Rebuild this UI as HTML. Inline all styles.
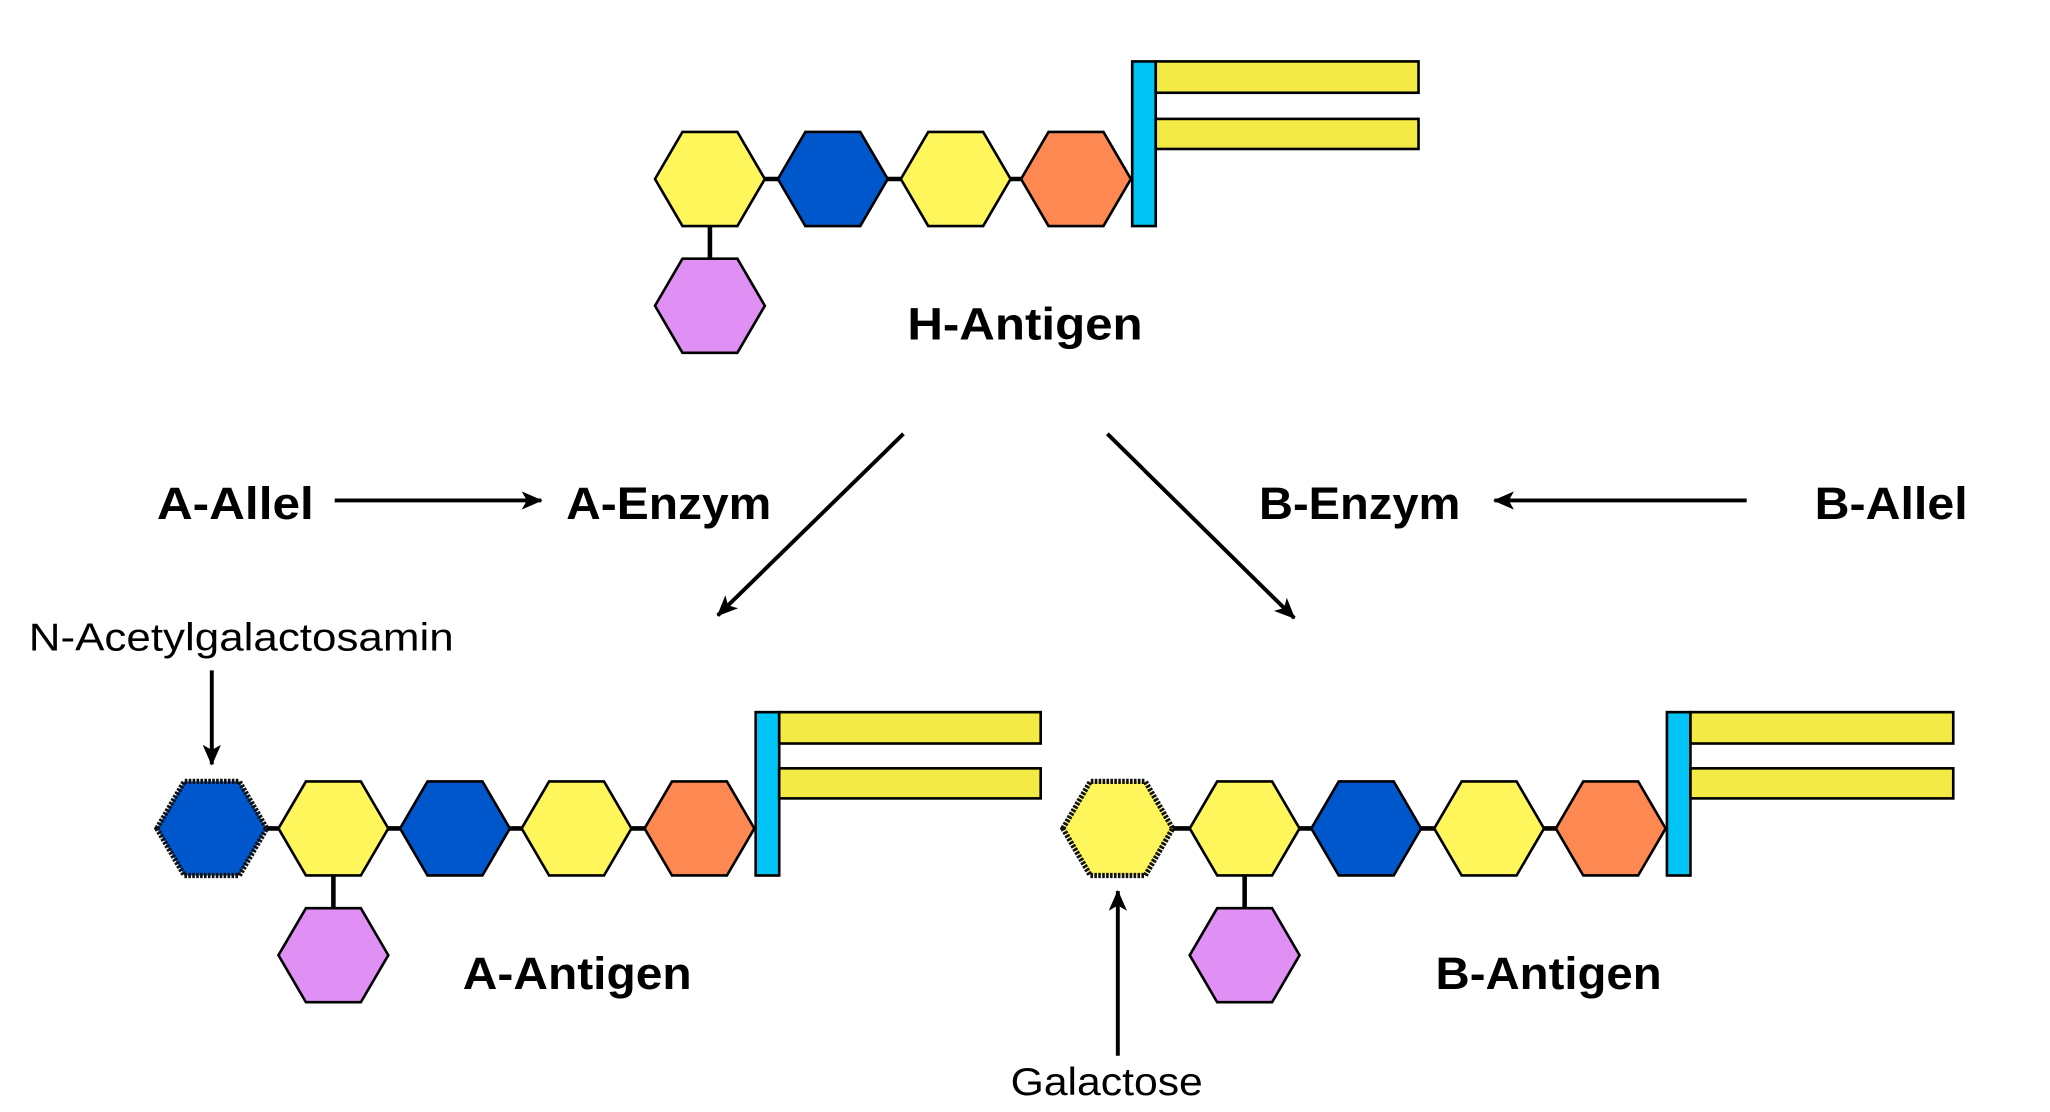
<!DOCTYPE html>
<html><head><meta charset="utf-8"><style>html,body{margin:0;padding:0;background:#fff}svg{display:block}</style></head>
<body>
<svg width="2050" height="1112" viewBox="0 0 1568 851" preserveAspectRatio="none" xmlns="http://www.w3.org/2000/svg">
<defs>
<marker id="ah2" markerWidth="16" markerHeight="16" refX="15" refY="8" orient="auto" markerUnits="userSpaceOnUse" viewBox="0 0 16 16">
<path d="M0,1 L16,8 L0,15 L4,8 z" fill="#000"/></marker>
<polygon id="hx" points="-42,0 -21,-36 21,-36 42,0 21,36 -21,36" stroke="#000" stroke-width="2"/>
</defs>
<g font-family="Liberation Sans, sans-serif">
<!-- H antigen -->
<g stroke="#000" stroke-width="3.5"><line x1="543" y1="137" x2="823" y2="137"/><line x1="543" y1="173" x2="543" y2="198"/></g>
<use href="#hx" x="543" y="137" fill="#fef65b"/>
<use href="#hx" x="637" y="137" fill="#0057cc"/>
<use href="#hx" x="731" y="137" fill="#fef65b"/>
<use href="#hx" x="823" y="137" fill="#fe8852"/>
<use href="#hx" x="543" y="234" fill="#e090f5"/>
<rect x="866" y="47" width="18" height="126" fill="#00c4f5" stroke="#000" stroke-width="2"/>
<rect x="884" y="47" width="201" height="24" fill="#f4ea45" stroke="#000" stroke-width="2"/>
<rect x="884" y="91" width="201" height="23" fill="#f4ea45" stroke="#000" stroke-width="2"/>
<text x="784" y="260" font-size="35" font-weight="bold" text-anchor="middle" textLength="180" lengthAdjust="spacingAndGlyphs">H-Antigen</text>

<!-- arrows -->
<g stroke="#000" stroke-width="3">
<line x1="691" y1="332" x2="549" y2="471" marker-end="url(#ah2)"/>
<line x1="847" y1="332" x2="990" y2="473" marker-end="url(#ah2)"/>
<line x1="256" y1="383" x2="414" y2="383" marker-end="url(#ah2)"/>
<line x1="1336" y1="383" x2="1143" y2="383" marker-end="url(#ah2)"/>
<line x1="162" y1="513" x2="162" y2="585" marker-end="url(#ah2)"/>
<line x1="855" y1="808" x2="855" y2="682" marker-end="url(#ah2)"/>
</g>
<g font-size="35" font-weight="bold">
<text x="120" y="397" textLength="120" lengthAdjust="spacingAndGlyphs">A-Allel</text>
<text x="433" y="397" textLength="157" lengthAdjust="spacingAndGlyphs">A-Enzym</text>
<text x="963" y="397" textLength="154" lengthAdjust="spacingAndGlyphs">B-Enzym</text>
<text x="1388" y="397" textLength="117" lengthAdjust="spacingAndGlyphs">B-Allel</text>
<text x="354" y="757" textLength="175" lengthAdjust="spacingAndGlyphs">A-Antigen</text>
<text x="1098" y="757" textLength="173" lengthAdjust="spacingAndGlyphs">B-Antigen</text>
</g>
<text x="22" y="498" font-size="30" textLength="325" lengthAdjust="spacingAndGlyphs">N-Acetylgalactosamin</text>
<text x="773" y="838" font-size="30" textLength="147" lengthAdjust="spacingAndGlyphs">Galactose</text>

<!-- A antigen -->
<g stroke="#000" stroke-width="3.5"><line x1="162" y1="634" x2="535" y2="634"/><line x1="255" y1="670" x2="255" y2="695"/></g>
<polygon points="120,634 141,598 183,598 204,634 183,670 141,670" fill="#0057cc" stroke="#111" stroke-width="4" stroke-dasharray="2 1"/>
<use href="#hx" x="255" y="634" fill="#fef65b"/>
<use href="#hx" x="348" y="634" fill="#0057cc"/>
<use href="#hx" x="441" y="634" fill="#fef65b"/>
<use href="#hx" x="535" y="634" fill="#fe8852"/>
<use href="#hx" x="255" y="731" fill="#e090f5"/>
<rect x="578" y="545" width="18" height="125" fill="#00c4f5" stroke="#000" stroke-width="2"/>
<rect x="596" y="545" width="200" height="24" fill="#f4ea45" stroke="#000" stroke-width="2"/>
<rect x="596" y="588" width="200" height="23" fill="#f4ea45" stroke="#000" stroke-width="2"/>

<!-- B antigen -->
<g stroke="#000" stroke-width="3.5"><line x1="855" y1="634" x2="1232" y2="634"/><line x1="952" y1="670" x2="952" y2="695"/></g>
<polygon points="813,634 834,598 876,598 897,634 876,670 834,670" fill="#fef65b" stroke="#111" stroke-width="4" stroke-dasharray="2 1"/>
<use href="#hx" x="952" y="634" fill="#fef65b"/>
<use href="#hx" x="1045" y="634" fill="#0057cc"/>
<use href="#hx" x="1139" y="634" fill="#fef65b"/>
<use href="#hx" x="1232" y="634" fill="#fe8852"/>
<use href="#hx" x="952" y="731" fill="#e090f5"/>
<rect x="1275" y="545" width="18" height="125" fill="#00c4f5" stroke="#000" stroke-width="2"/>
<rect x="1293" y="545" width="201" height="24" fill="#f4ea45" stroke="#000" stroke-width="2"/>
<rect x="1293" y="588" width="201" height="23" fill="#f4ea45" stroke="#000" stroke-width="2"/>
</g>
</svg>
</body></html>
